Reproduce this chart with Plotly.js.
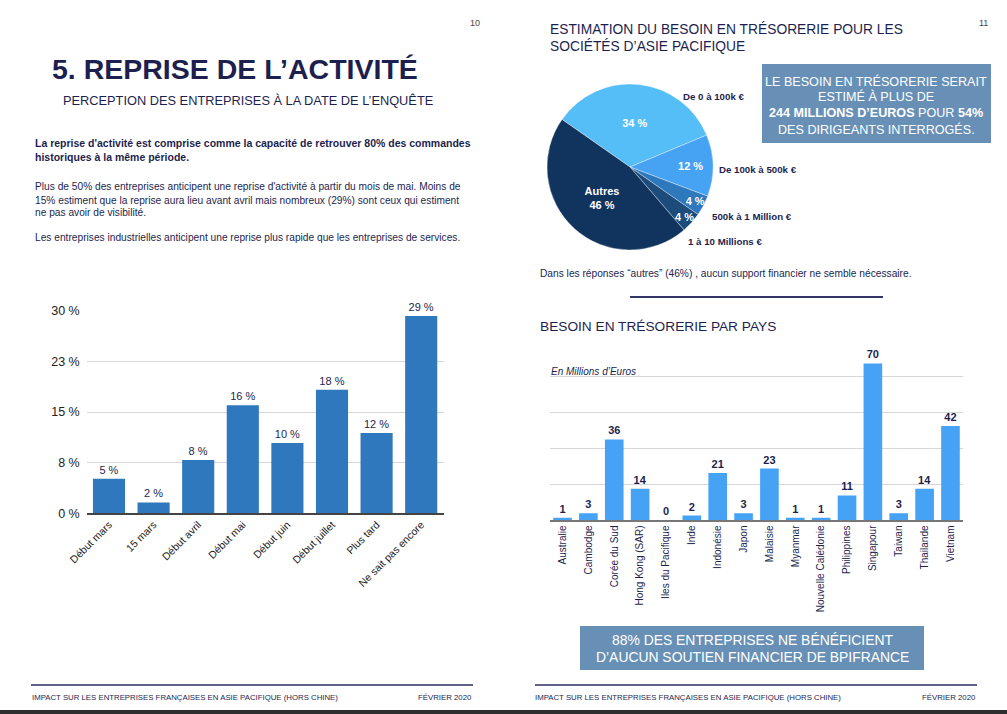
<!DOCTYPE html>
<html>
<head>
<meta charset="utf-8">
<script src="https://cdn.plot.ly/plotly-3.0.1.min.js"></script>
<style>
html,body{margin:0;padding:0;background:#fff;}
#chart{width:1007px;height:714px;}
</style>
</head>
<body>
<div id="chart"></div>
<script>
// ---- Data ----
const repriseCategories = ['Début mars','15 mars','Début avril','Début mai','Début juin','Début juillet','Plus tard','Ne sait pas encore'];
const repriseValues = [5.1, 1.6, 7.9, 16.0, 10.4, 18.3, 11.9, 29.2];
const repriseTickVals = [0, 7.5, 15, 22.5, 30];
const repriseTickText = ['0 %', '8 %', '15 %', '23 %', '30 %'];

const pieLabels = ['De 0 à 100k €', 'De 100k à 500k €', '500k à 1 Million €', '1 à 10 Millions €', 'Autres'];
const pieValues = [34, 12, 4, 4, 46];
const pieTexts = ['34 %', '12 %', '4 %', '4 %', 'Autres<br>46 %'];

const paysCategories = ['Australie','Cambodge','Corée du Sud','Hong Kong (SAR)','Iles du Pacifique','Inde','Indonésie','Japon','Malaisie','Myanmar','Nouvelle Calédonie','Philippines','Singapour','Taiwan','Thailande','Vietnam'];
const paysValues = [1, 3, 36, 14, 0, 2, 21, 3, 23, 1, 1, 11, 70, 3, 14, 42];

// ---- Helpers ----
const W = 1007, H = 714;
const FONT = 'Liberation Sans, Arial, sans-serif';
const NAVY = '#1d1f4f';
const px = x => x / W;
const py = y => 1 - y / H;

function ann(x, y, text, size, color, opts) {
  opts = opts || {};
  return {
    x: px(x), y: py(y), xref: 'paper', yref: 'paper',
    text: text, showarrow: false,
    xanchor: opts.xanchor || 'left', yanchor: 'middle',
    align: opts.align || 'left',
    font: {family: FONT, size: size, color: color || NAVY}
  };
}
function rect(x0, y0, x1, y1, fill) {
  return {type: 'rect', xref: 'paper', yref: 'paper', x0: px(x0), x1: px(x1), y0: py(y0), y1: py(y1),
    fillcolor: fill, line: {width: 0}, layer: 'below'};
}
function hline(x0, x1, y, color, w) {
  return {type: 'line', xref: 'paper', yref: 'paper', x0: px(x0), x1: px(x1), y0: py(y), y1: py(y),
    line: {color: color, width: w}};
}

// ---- Traces ----
const traces = [
  {
    type: 'bar', x: repriseCategories, y: repriseValues, xaxis: 'x', yaxis: 'y',
    marker: {color: '#2f78bd'},
    texttemplate: '%{y:.0f} %', textposition: 'outside', cliponaxis: false,
    textfont: {family: FONT, size: 11, color: NAVY},
    hoverinfo: 'skip'
  },
  {
    type: 'pie', values: pieValues, labels: pieLabels, text: pieTexts,
    textinfo: 'text', textposition: 'inside', insidetextorientation: 'horizontal',
    sort: false, direction: 'clockwise', rotation: -55,
    domain: {x: [px(630 - 83), px(630 + 83)], y: [py(167 + 83), py(167 - 83)]},
    marker: {colors: ['#56bef6', '#46a3f3', '#2e78be', '#1c4b7c', '#11345f'],
             line: {color: 'rgba(255,255,255,0.6)', width: 0.6}},
    textfont: {family: FONT, size: 11, color: '#ffffff', weight: 'bold'},
    showlegend: false, hoverinfo: 'skip'
  },
  {
    type: 'bar', x: paysCategories, y: paysValues, xaxis: 'x2', yaxis: 'y2',
    marker: {color: '#45a2f5'},
    texttemplate: '<b>%{y}</b>', textposition: 'outside', cliponaxis: false,
    textfont: {family: FONT, size: 10, color: NAVY},
    hoverinfo: 'skip'
  }
];

// ---- Annotations ----
const annotations = [
  ann(475, 23, '10', 9, '#444', {xanchor: 'center'}),
  ann(983, 23, '11', 9, '#444', {xanchor: 'center'}),
  ann(50, 69, '<b>5. REPRISE DE L’ACTIVITÉ</b>', 28.5, NAVY),
  ann(61, 101, 'PERCEPTION DES ENTREPRISES À LA DATE DE L’ENQUÊTE', 12.8, NAVY),
  ann(33, 143, '<b>La reprise d\'activité est comprise comme la capacité de retrouver 80% des commandes</b>', 10.5, NAVY),
  ann(33, 157, '<b>historiques à la même période.</b>', 10.5, NAVY),
  ann(33, 187, 'Plus de 50% des entreprises anticipent une reprise d\'activité à partir du mois de mai. Moins de', 10.2, NAVY),
  ann(33, 200, '15% estiment que la reprise aura lieu avant avril mais nombreux (29%) sont ceux qui estiment', 10.2, NAVY),
  ann(33, 212, 'ne pas avoir de visibilité.', 10.2, NAVY),
  ann(33, 238, 'Les entreprises industrielles anticipent une reprise plus rapide que les entreprises de services.', 10.2, NAVY),

  ann(548, 29, 'ESTIMATION DU BESOIN EN TRÉSORERIE POUR LES', 13.8, NAVY),
  ann(548, 46, 'SOCIÉTÉS D’ASIE PACIFIQUE', 13.8, NAVY),
  ann(876, 81, 'LE BESOIN EN TRÉSORERIE SERAIT', 12.6, '#ffffff', {xanchor: 'center'}),
  ann(876, 97, 'ESTIMÉ À PLUS DE', 12.6, '#ffffff', {xanchor: 'center'}),
  ann(876, 113, '<b>244 MILLIONS D’EUROS</b> POUR <b>54%</b>', 12.6, '#ffffff', {xanchor: 'center'}),
  ann(876, 129, 'DES DIRIGEANTS INTERROGÉS.', 12.6, '#ffffff', {xanchor: 'center'}),

  ann(681, 97, '<b>De 0 à 100k €</b>', 9.7, NAVY),
  ann(717, 169, '<b>De 100k à 500k €</b>', 9.7, NAVY),
  ann(710, 216, '<b>500k à 1 Million €</b>', 9.7, NAVY),
  ann(686, 241, '<b>1 à 10 Millions €</b>', 9.7, NAVY),

  ann(538, 273, 'Dans les réponses “autres” (46%) , aucun support financier ne semble nécessaire.', 10.2, NAVY),
  ann(538, 327, 'BESOIN EN TRÉSORERIE PAR PAYS', 13.7, NAVY),
  ann(549, 371, '<i>En Millions d’Euros</i>', 10, NAVY),

  ann(752, 640, '88% DES ENTREPRISES NE BÉNÉFICIENT', 13.9, '#ffffff', {xanchor: 'center'}),
  ann(752, 657, 'D’AUCUN SOUTIEN FINANCIER DE BPIFRANCE', 13.9, '#ffffff', {xanchor: 'center'}),

  ann(30, 697, 'IMPACT SUR LES ENTREPRISES FRANÇAISES EN ASIE PACIFIQUE (HORS CHINE)', 7.8, NAVY),
  ann(474, 697, 'FÉVRIER 2020', 7.8, NAVY, {xanchor: 'right'}),
  ann(533, 697, 'IMPACT SUR LES ENTREPRISES FRANÇAISES EN ASIE PACIFIQUE (HORS CHINE)', 7.8, NAVY),
  ann(978, 697, 'FÉVRIER 2020', 7.8, NAVY, {xanchor: 'right'})
];

const shapes = [
  rect(762, 64, 991, 143, '#6890b6'),
  rect(580, 626, 924, 670, '#6890b6'),
  hline(630, 883, 297, '#34366a', 2),
  hline(31, 473, 685, '#2b2d62', 1.5),
  hline(535, 977, 685, '#2b2d62', 1.5),
  rect(0, 710, 1007, 714, '#2e2e2e')
];

const layout = {
  width: W, height: H,
  margin: {l: 0, r: 0, t: 0, b: 0},
  paper_bgcolor: '#ffffff', plot_bgcolor: 'rgba(0,0,0,0)',
  showlegend: false,
  bargap: 0.28,
  uniformtext: {minsize: 11, mode: 'show'},
  xaxis: {
    domain: [px(86.7), px(443.5)], anchor: 'y',
    tickangle: -45, showgrid: false, zeroline: false,
    showline: true, linecolor: '#444', linewidth: 1.2,
    ticks: '', tickfont: {family: FONT, size: 10.5, color: '#222'},
    fixedrange: true
  },
  yaxis: {
    domain: [py(513.3), py(310.7)], anchor: 'x',
    range: [0, 30], tickvals: repriseTickVals, ticktext: repriseTickText,
    showgrid: true, gridcolor: '#d6d6d6', gridwidth: 1, zeroline: false,
    showline: false, ticks: '', ticklabelstandoff: 6,
    tickfont: {family: FONT, size: 12.5, color: '#222'},
    fixedrange: true
  },
  xaxis2: {
    domain: [px(549.6), px(963.4)], anchor: 'y2',
    tickangle: -90, showgrid: false, zeroline: false,
    showline: true, linecolor: '#777', linewidth: 1.5,
    ticks: '', tickfont: {family: FONT, size: 10, color: NAVY},
    fixedrange: true
  },
  yaxis2: {
    domain: [py(520), py(341)], anchor: 'x2',
    range: [0, 80], dtick: 16, showticklabels: false,
    showgrid: true, gridcolor: '#d6d6d6', gridwidth: 1, zeroline: false,
    showline: false, ticks: '', fixedrange: true
  },
  annotations: annotations,
  shapes: shapes
};

Plotly.newPlot('chart', traces, layout, {displayModeBar: false, staticPlot: true});
</script>
</body>
</html>
